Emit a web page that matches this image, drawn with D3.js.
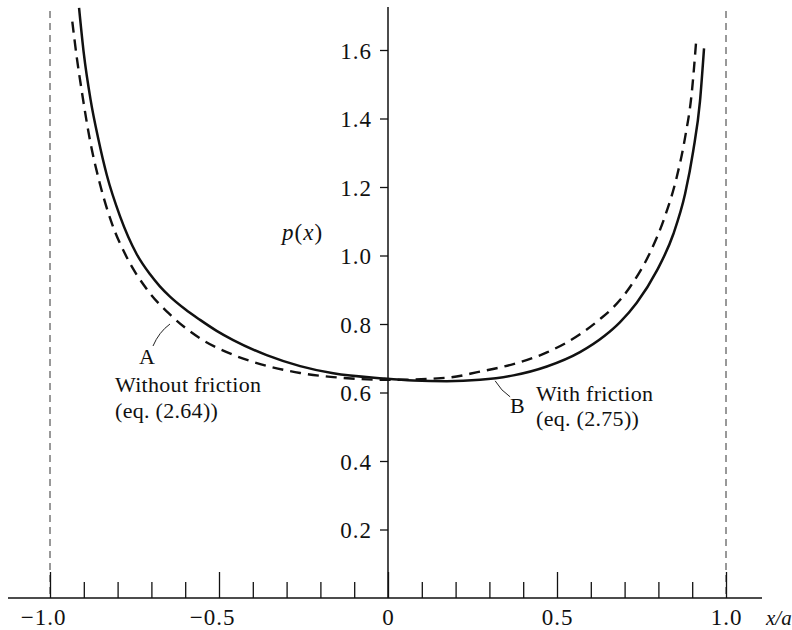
<!DOCTYPE html>
<html>
<head>
<meta charset="utf-8">
<script src="https://cdn.jsdelivr.net/npm/d3@7"></script>
<style>
  body { margin: 0; background: #fff; }
  svg { display: block; }
  text { font-family: "Liberation Serif", "DejaVu Serif", serif; fill: #111; }
</style>
</head>
<body>
<svg id="chart" width="792" height="630"></svg>
<script>
// curve A, without friction (dashed)
var noFrictionX = [-0.934, -0.921, -0.906, -0.882, -0.852, -0.817, -0.773, -0.714, -0.640, -0.556,
                   -0.458, -0.359, -0.260, -0.162, 0.000, 0.174, 0.272, 0.371, 0.470, 0.568,
                   0.627, 0.667, 0.716, 0.775, 0.820, 0.854, 0.879, 0.899, 0.912];
var noFrictionP = [1.683, 1.580, 1.480, 1.338, 1.208, 1.094, 0.995, 0.902, 0.823, 0.758,
                   0.710, 0.678, 0.657, 0.645, 0.637, 0.643, 0.661, 0.683, 0.717, 0.770,
                   0.814, 0.849, 0.908, 1.008, 1.116, 1.228, 1.345, 1.478, 1.630];

// curve B, with friction (solid)
var frictionX = [-0.914, -0.900, -0.880, -0.857, -0.832, -0.793, -0.743, -0.704, -0.675, -0.645,
                 -0.600, -0.556, -0.507, -0.458, -0.359, -0.260, -0.162, -0.014, 0.075, 0.174,
                 0.272, 0.371, 0.470, 0.568, 0.640, 0.686, 0.736, 0.795, 0.844, 0.879,
                 0.903, 0.923, 0.935];
var frictionP = [1.723, 1.590, 1.455, 1.340, 1.235, 1.115, 1.003, 0.945, 0.910, 0.880,
                 0.843, 0.812, 0.780, 0.753, 0.709, 0.677, 0.656, 0.641, 0.635, 0.633,
                 0.637, 0.650, 0.676, 0.718, 0.765, 0.805, 0.862, 0.955, 1.062, 1.180,
                 1.305, 1.450, 1.605];

var xMajorTicks = [-1.0, -0.5, 0, 0.5, 1.0];
var xMinorTicks = [-0.9, -0.8, -0.7, -0.6, -0.4, -0.3, -0.2, -0.1, 0.1, 0.2, 0.3, 0.4, 0.6, 0.7, 0.8, 0.9];
var yTicks = [0.2, 0.4, 0.6, 0.8, 1.0, 1.2, 1.4, 1.6];
var edgeLines = [-1.0, 1.0];

var svg = d3.select("#chart");

var x = d3.scaleLinear().domain([-1, 1]).range([50, 726]);
var y = d3.scaleLinear().domain([0, 1.6]).range([598, 50]);

var axisLeftEnd = 8, axisRightEnd = 762, yAxisTop = 7, edgeTop = 11;

//////////////////////////////////////////////////////////////////
// dashed edge lines at x = -a and x = a
//////////////////////////////////////////////////////////////////
svg.selectAll(".edge")
  .data(edgeLines)
  .enter()
  .append("line")
    .attr("class", "edge")
    .attr("x1", function(d){ return x(d); })
    .attr("x2", function(d){ return x(d); })
    .attr("y1", edgeTop)
    .attr("y2", y(0))
    .attr("stroke", "#333")
    .attr("stroke-width", 1)
    .attr("stroke-dasharray", "7,5");

//////////////////////////////////////////////////////////////////
// x axis (ticks point up)
//////////////////////////////////////////////////////////////////
svg.append("line")
  .attr("x1", axisLeftEnd).attr("x2", axisRightEnd)
  .attr("y1", y(0)).attr("y2", y(0))
  .attr("stroke", "#111").attr("stroke-width", 1.5);

var xMinor = svg.append("g")
  .attr("transform", "translate(0," + y(0) + ")")
  .call(d3.axisBottom(x).tickValues(xMinorTicks).tickSizeInner(-16).tickSizeOuter(0).tickFormat(""));
xMinor.select(".domain").remove();
xMinor.selectAll("line").attr("stroke", "#111").attr("stroke-width", 1.3);

var xMajor = svg.append("g")
  .attr("transform", "translate(0," + y(0) + ")")
  .call(d3.axisBottom(x).tickValues(xMajorTicks).tickSizeInner(-26).tickSizeOuter(0)
    .tickFormat(function(d){ return d === 0 ? "0" : d3.format(".1f")(d); }));
xMajor.select(".domain").remove();
xMajor.selectAll("line").attr("stroke", "#111").attr("stroke-width", 1.3);
xMajor.selectAll("text")
  .attr("y", 27).attr("dy", 0)
  .attr("dx", function(d){ return d < 0 ? "-0.3em" : 0; })
  .style("font-size", "23px")
  .style("letter-spacing", "1px")
  .attr("fill", "#111");

svg.append("text")
  .attr("x", 766).attr("y", 625)
  .style("font-size", "21px").style("font-style", "italic")
  .text("x/a");

//////////////////////////////////////////////////////////////////
// y axis at x = 0, ticks on the left
//////////////////////////////////////////////////////////////////
svg.append("line")
  .attr("x1", x(0)).attr("x2", x(0))
  .attr("y1", yAxisTop).attr("y2", y(0))
  .attr("stroke", "#111").attr("stroke-width", 1.5);

var yAxis = svg.append("g")
  .attr("transform", "translate(" + x(0) + ",0)")
  .call(d3.axisLeft(y).tickValues(yTicks).tickSizeInner(8).tickSizeOuter(0).tickPadding(8)
    .tickFormat(d3.format(".1f")));
yAxis.select(".domain").remove();
yAxis.selectAll("line").attr("stroke", "#111").attr("stroke-width", 1.3);
yAxis.selectAll("text")
  .attr("dy", "0.36em")
  .style("font-size", "23px")
  .style("letter-spacing", "1px")
  .attr("fill", "#111");

var pLabel = svg.append("text")
  .attr("x", 282).attr("y", 240)
  .style("font-size", "23px")
  .style("letter-spacing", "1px");
pLabel.append("tspan").style("font-style", "italic").text("p");
pLabel.append("tspan").text("(");
pLabel.append("tspan").style("font-style", "italic").text("x");
pLabel.append("tspan").text(")");

//////////////////////////////////////////////////////////////////
// curves
//////////////////////////////////////////////////////////////////
var line = d3.line()
  .x(function(d){ return x(d[0]); })
  .y(function(d){ return y(d[1]); })
  .curve(d3.curveMonotoneX);

svg.append("path")
  .datum(d3.zip(noFrictionX, noFrictionP))
  .attr("d", line)
  .attr("fill", "none")
  .attr("stroke", "#111")
  .attr("stroke-width", 2.4)
  .attr("stroke-dasharray", "11,7");

svg.append("path")
  .datum(d3.zip(frictionX, frictionP))
  .attr("d", line)
  .attr("fill", "none")
  .attr("stroke", "#111")
  .attr("stroke-width", 2.5);

//////////////////////////////////////////////////////////////////
// annotations
//////////////////////////////////////////////////////////////////
var ax = x(-0.645), ay = y(0.80);
svg.append("path")
  .attr("d", "M" + ax + "," + ay + " Q" + (ax - 11) + "," + (ay + 8) + " " + (ax - 17) + "," + (ay + 22))
  .attr("fill", "none").attr("stroke", "#222").attr("stroke-width", 1);
svg.append("text").attr("x", 139).attr("y", 364).style("font-size", "22px").text("A");
svg.append("text").attr("x", 115).attr("y", 392).style("font-size", "22px").style("letter-spacing", "0.3px").text("Without friction");
svg.append("text").attr("x", 115).attr("y", 418).style("font-size", "22px").style("letter-spacing", "0.3px").text("(eq. (2.64))");

var bx = x(0.317), by = y(0.634);
svg.append("path")
  .attr("d", "M" + bx + "," + by + " Q" + (bx + 6) + "," + (by + 10) + " " + (bx + 15) + "," + (by + 16))
  .attr("fill", "none").attr("stroke", "#222").attr("stroke-width", 1);
svg.append("text").attr("x", 510).attr("y", 413).style("font-size", "22px").text("B");
svg.append("text").attr("x", 536).attr("y", 401).style("font-size", "22px").style("letter-spacing", "0.3px").text("With friction");
svg.append("text").attr("x", 536).attr("y", 426).style("font-size", "22px").style("letter-spacing", "0.3px").text("(eq. (2.75))");
</script>
</body>
</html>
